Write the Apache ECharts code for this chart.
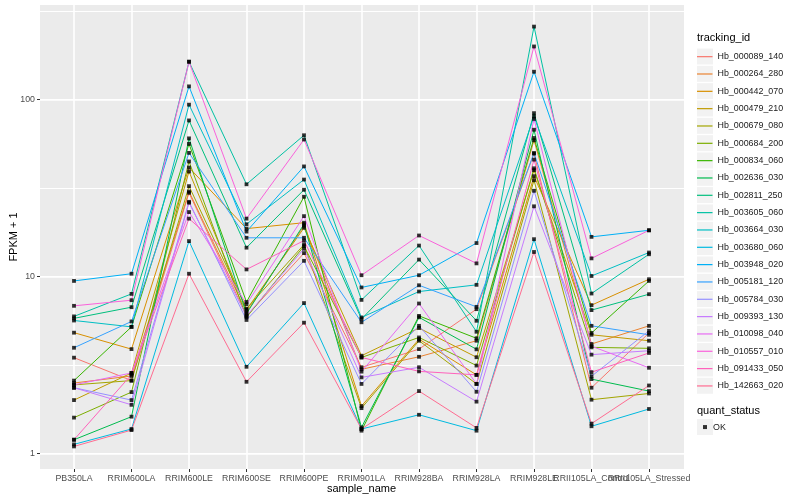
<!DOCTYPE html>
<html><head><meta charset="utf-8">
<script src="https://cdn.jsdelivr.net/npm/echarts@6/dist/echarts.min.js"></script>
<style>html,body{margin:0;padding:0;background:#fff}#c{width:800px;height:500px}</style>
</head><body><div id="c"></div><script>
const categories = ['PB350LA','RRIM600LA','RRIM600LE','RRIM600SE','RRIM600PE','RRIM901LA','RRIM928BA','RRIM928LA','RRIM928LE','RRII105LA_Control','RRII105LA_Stressed'];
const trackingIds = ['Hb_000089_140','Hb_000264_280','Hb_000442_070','Hb_000479_210','Hb_000679_080','Hb_000684_200','Hb_000834_060','Hb_002636_030','Hb_002811_250','Hb_003605_060','Hb_003664_030','Hb_003680_060','Hb_003948_020','Hb_005181_120','Hb_005784_030','Hb_009393_130','Hb_010098_040','Hb_010557_010','Hb_091433_050','Hb_142663_020'];
const yTickValues = [1, 10, 100];

const hb_000089_140 = [3.49, 2.59, 29.8, 6.0, 13.6, 3.08, 3.90, 6.56, 49.6, 2.36, 4.81];
const hb_000264_280 = [2.51, 2.75, 30.3, 6.3, 19.4, 3.0, 3.53, 4.35, 59, 4.17, 5.28];
const hb_000442_070 = [4.83, 3.9, 41.4, 18.7, 20.2, 1.86, 4.44, 2.79, 37, 6.91, 9.68];
const hb_000479_210 = [2.01, 2.86, 39.3, 6.5, 18.9, 3.58, 5.13, 3.51, 40, 4.7, 4.35];
const hb_000679_080 = [2.45, 2.59, 32.5, 6.6, 15.2, 1.81, 4.35, 2.48, 35.1, 2.02, 2.19];
const hb_000684_200 = [1.60, 2.23, 44.8, 5.9, 14.9, 3.5, 4.54, 3.15, 41, 3.99, 3.94];
const hb_000834_060 = [2.59, 5.21, 56.3, 7.2, 28.3, 1.35, 6.01, 4.49, 60.8, 4.81, 9.47];
const hb_002636_030 = [1.2, 1.62, 60.5, 6.2, 19.8, 1.41, 5.9, 3.89, 67.7, 2.64, 2.26];
const hb_002811_250 = [5.82, 6.73, 76.4, 14.6, 31, 5.77, 12.5, 5.64, 84, 6.48, 7.97];
const hb_003605_060 = [5.97, 8.0, 164, 33.3, 63, 7.4, 15.0, 4.89, 259, 8.04, 13.4];
const hb_003664_030 = [5.66, 5.21, 93.8, 19.8, 35.4, 5.89, 8.25, 9.0, 80.5, 10.1, 13.7];
const hb_003680_060 = [1.13, 1.38, 15.9, 3.1, 7.1, 1.38, 1.66, 1.35, 16.3, 1.43, 1.79];
const hb_003948_020 = [9.47, 10.4, 119, 18.0, 42, 8.7, 10.2, 15.5, 144, 16.8, 18.3];
const hb_005181_120 = [3.97, 5.59, 50.1, 16.6, 16.6, 5.53, 8.95, 6.76, 50, 5.28, 4.7];
const hb_005784_030 = [2.36, 2.01, 26.5, 5.7, 12.3, 2.48, 5.28, 2.24, 30.6, 2.74, 4.95];
const hb_009393_130 = [2.36, 1.89, 26.2, 6.0, 14.4, 2.70, 3.08, 1.97, 25, 3.63, 3.82];
const hb_010098_040 = [2.45, 2.86, 23.2, 7.0, 22, 2.91, 7.06, 2.48, 77.9, 4.05, 3.06];
const hb_010557_010 = [6.85, 7.37, 164, 21.3, 59.6, 10.2, 17.1, 11.9, 200, 12.7, 18.3];
const hb_091433_050 = [1.2, 2.80, 21.3, 11.0, 16.0, 3.5, 2.92, 2.79, 45.9, 2.89, 3.71];
const hb_142663_020 = [1.1, 1.36, 10.4, 2.55, 5.5, 1.38, 2.26, 1.4, 13.8, 1.48, 2.43];

const seriesValues = [hb_000089_140, hb_000264_280, hb_000442_070, hb_000479_210, hb_000679_080, hb_000684_200, hb_000834_060, hb_002636_030, hb_002811_250, hb_003605_060, hb_003664_030, hb_003680_060, hb_003948_020, hb_005181_120, hb_005784_030, hb_009393_130, hb_010098_040, hb_010557_010, hb_091433_050, hb_142663_020];

const palette = ['#F8766D','#EA8331','#D89000','#C09B00','#A3A500','#7CAE00','#39B600','#00BB4E','#00BF7D','#00C1A3','#00BFC4','#00BAE0','#00B0F6','#35A2FF','#9590FF','#C77CFF','#E76BF3','#FA62DB','#FF62BC','#FF6C91'];

const FONT = '"Liberation Sans", Arial, sans-serif';
const yMin = 0.82, yMax = 343;

const chart = echarts.init(document.getElementById('c'));

const series = trackingIds.map((id, i) => ({
  name: id, type: 'line', xAxisIndex: 1, yAxisIndex: 2,
  data: seriesValues[i], showSymbol: false, symbol: 'none',
  lineStyle: { width: 1, color: palette[i] }, itemStyle: { color: palette[i] },
  emphasis: { disabled: true }, z: 3
}));
const okPoints = [];
seriesValues.forEach(v => v.forEach((y, j) => okPoints.push([categories[j], y])));
series.push({
  name: 'OK', type: 'scatter', xAxisIndex: 1, yAxisIndex: 2, data: okPoints,
  symbol: 'rect', symbolSize: 3.8, itemStyle: { color: '#000' }, z: 6,
  emphasis: { disabled: true }
});

const rowH = 17.33;
const keyRects = [];
for (let i = 0; i < trackingIds.length; i++) {
  keyRects.push({ type: 'rect', x: 697, y: 48.5 + i * rowH, shape: { x: 0, y: 0, width: 16, height: 16 }, style: { fill: '#F2F2F2' }, z: -1 });
}
keyRects.push({ type: 'rect', x: 697, y: 419, shape: { x: 0, y: 0, width: 16, height: 16 }, style: { fill: '#F2F2F2' }, z: -1 });

const axisText = { fontFamily: FONT, fontSize: 8.8, color: '#4D4D4D' };
const titleText = { fontFamily: FONT, fontSize: 11, color: '#000', fontWeight: 'normal' };

chart.setOption({
  animation: false,
  color: palette,
  title: [
    { text: 'tracking_id', left: 697, top: 32, padding: 0, textStyle: titleText },
    { text: 'quant_status', left: 697, top: 405, padding: 0, textStyle: titleText }
  ],
  graphic: keyRects,
  legend: [
    { data: trackingIds, orient: 'vertical', left: 697, top: 48, padding: 0, itemGap: 0,
      itemWidth: 15.5, itemHeight: 1.2, icon: 'rect', selectedMode: false,
      textStyle: { fontFamily: FONT, fontSize: 8.9, color: '#1A1A1A', lineHeight: rowH, padding: [0, 0, 0, 0] } },
    { data: ['OK'], orient: 'vertical', left: 703, top: 418.4, padding: 0, itemGap: 0,
      itemWidth: 4, itemHeight: 4, icon: 'rect', selectedMode: false,
      textStyle: { fontFamily: FONT, fontSize: 8.9, color: '#1A1A1A', lineHeight: rowH, padding: [0, 0, 0, 1] } }
  ],
  grid: [
    { left: 40, right: 116, top: 5, bottom: 31, show: true, backgroundColor: '#EBEBEB', borderWidth: 0, outerBoundsMode: 'none', containLabel: false },
    { left: 74, right: 151, top: 5, bottom: 31, show: false, outerBoundsMode: 'none', containLabel: false },
    { left: 40, right: 116, top: 5, bottom: 31, show: false, outerBoundsMode: 'none', containLabel: false }
  ],
  xAxis: [
    { gridIndex: 0, type: 'value', show: false, min: 0, max: 1 },
    { gridIndex: 1, type: 'category', data: categories, boundaryGap: false,
      axisLine: { show: false }, axisTick: { show: true, length: 3, lineStyle: { color: '#333', width: 1 } },
      axisLabel: Object.assign({ interval: 0, margin: 5, hideOverlap: false }, axisText),
      splitLine: { show: true, lineStyle: { color: '#fff', width: 1.6 } },
      name: 'sample_name', nameLocation: 'middle', nameGap: 14, nameMoveOverlap: false, nameTextStyle: titleText },
    { gridIndex: 2, type: 'value', min: 0, max: 1, axisLine: { show: false }, axisTick: { show: false }, axisLabel: { show: false }, splitLine: { show: false } }
  ],
  yAxis: [
    { gridIndex: 0, type: 'log', logBase: 10, min: yMin, max: yMax, splitNumber: 2,
      axisLine: { show: false }, axisTick: { show: true, length: 3, lineStyle: { color: '#333' } },
      axisLabel: Object.assign({ margin: 5, showMinLabel: false, showMaxLabel: false,
        formatter: v => (yTickValues.indexOf(Math.round(v)) >= 0 ? String(Math.round(v)) : '') }, axisText),
      splitLine: { show: true, showMinLine: false, showMaxLine: false, lineStyle: { color: '#fff', width: 1.6 } },
      name: 'FPKM + 1', nameLocation: 'middle', nameGap: 21, nameMoveOverlap: false, nameTextStyle: titleText, z: 1 },
    { gridIndex: 2, type: 'value', min: Math.log10(yMin), max: Math.log10(yMax), splitNumber: 5,
      axisLine: { show: false }, axisTick: { show: false }, axisLabel: { show: false },
      splitLine: { show: true, showMinLine: false, showMaxLine: false, lineStyle: { color: '#ffffff', width: 1 } }, z: 1 },
    { gridIndex: 1, type: 'log', logBase: 10, min: yMin, max: yMax, show: false, splitLine: { show: false } }
  ],
  series: series
});
</script></body></html>
